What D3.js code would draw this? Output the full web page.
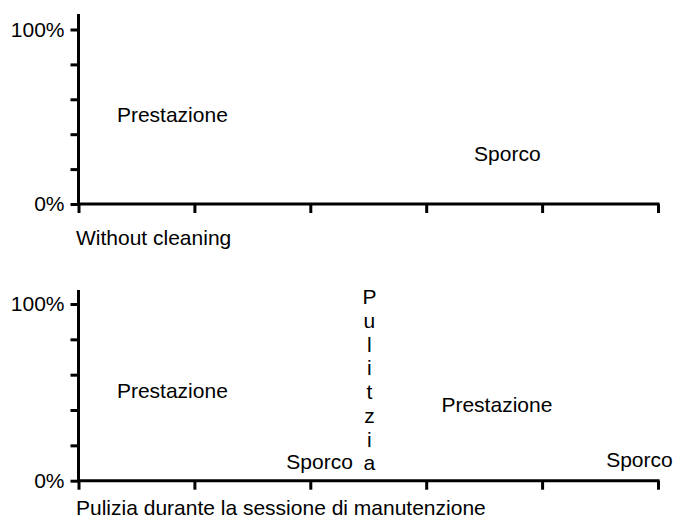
<!DOCTYPE html>
<html>
<head>
<meta charset="utf-8">
<script src="https://cdn.jsdelivr.net/npm/d3@7"></script>
<style>
  html, body { margin: 0; padding: 0; background: #fff; }
  svg text { font-family: "Liberation Sans", Arial, Helvetica, sans-serif; fill: #000; }
</style>
</head>
<body>
<svg id="chart" width="674" height="518"></svg>
<script>
// ---- data ----
const xTicks = [0, 1, 2, 3, 4, 5];
const yTicks = [0, 20, 40, 60, 80, 100];
const yTickLabels = { 0: "0%", 100: "100%" };

const panelTitles = ["Without cleaning", "Pulizia durante la sessione di manutenzione"];

// annotation labels: panel index, x (period units), y (%)
const labelTexts  = ["Prestazione", "Sporco", "Prestazione", "Sporco", "Prestazione", "Sporco"];
const labelPanels = [0, 0, 1, 1, 1, 1];
const labelX      = [0.81, 3.70, 0.81, 2.08, 3.61, 4.84];
const labelY      = [51, 29, 51, 11, 43, 12];

// vertical label (as written in the original)
const cleanText  = "Pulitzia";
const cleanPanel = 1;
const cleanX     = 2.51;
const cleanY     = 100;

// ---- layout ----
const svg = d3.select("#chart");
const fs = 21;
const panels = [
  { y0: 204, y100: 29.5, top: 14, titleY: 238 },
  { y0: 480.7, y100: 304, top: 290, titleY: 508 }
];
const xLeft = 78.5, xRight = 658;

const x = d3.scaleLinear().domain([0, 5]).range([xLeft, xRight]);

panels.forEach((p, i) => {
  const y = d3.scaleLinear().domain([0, 100]).range([p.y0, p.y100]);
  p.y = y;
  const g = svg.append("g");

  const yAxis = d3.axisLeft(y).tickValues(yTicks).tickSize(8).tickPadding(6)
    .tickFormat(d => yTickLabels[d] || "");
  const ga = g.append("g").attr("transform", `translate(${xLeft},0)`).call(yAxis);
  ga.select(".domain").remove();
  ga.selectAll(".tick line").attr("stroke", "#000").attr("stroke-width", 3);
  ga.selectAll(".tick text").attr("font-size", fs).style("font-family", '"Liberation Sans", Arial, sans-serif');

  // y-axis line (extends above 100%)
  g.append("line").attr("x1", xLeft).attr("x2", xLeft)
    .attr("y1", p.top).attr("y2", p.y0 + 1.5)
    .attr("stroke", "#000").attr("stroke-width", 3);

  const xAxis = d3.axisBottom(x).tickValues(xTicks).tickSize(9).tickFormat("");
  const gx = g.append("g").attr("transform", `translate(0,${p.y0})`).call(xAxis);
  gx.select(".domain").remove();
  gx.selectAll(".tick line").attr("stroke", "#000").attr("stroke-width", 3);
  g.append("line").attr("x1", xLeft - 1.5).attr("x2", xRight + 1.5)
    .attr("y1", p.y0).attr("y2", p.y0)
    .attr("stroke", "#000").attr("stroke-width", 3);

  g.append("text").attr("x", 76).attr("y", p.titleY)
    .attr("dy", "0.35em").attr("font-size", fs).text(panelTitles[i]);
});

labelTexts.forEach((t, i) => {
  const p = panels[labelPanels[i]];
  svg.append("text")
    .attr("x", x(labelX[i])).attr("y", p.y(labelY[i]))
    .attr("dy", "0.35em").attr("text-anchor", "middle")
    .attr("font-size", fs).text(t);
});

// vertical label, one letter per line
{
  const p = panels[cleanPanel];
  cleanText.split("").forEach((c, k) => {
    svg.append("text").attr("font-size", fs).attr("text-anchor", "middle")
      .attr("x", x(cleanX))
      .attr("y", p.y(cleanY) - 7 + k * 23.7)
      .attr("dy", "0.35em").text(c);
  });
}
</script>
</body>
</html>
